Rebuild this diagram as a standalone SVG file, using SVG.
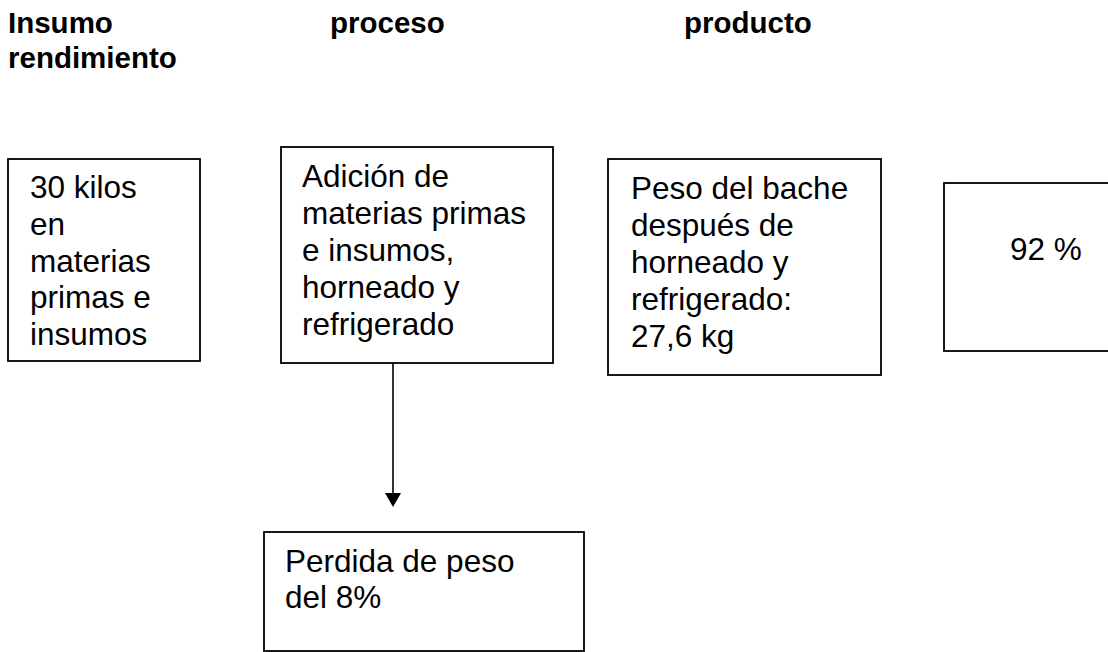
<svg xmlns="http://www.w3.org/2000/svg" width="1108" height="652" viewBox="0 0 1108 652">
<style>
.box{fill:#fff;stroke:#000;stroke-width:1.8}
.t{font-family:"Liberation Sans",Arial,sans-serif;font-size:31.5px;fill:#000}
.h{font-family:"Liberation Sans",Arial,sans-serif;font-size:29.5px;font-weight:bold;fill:#000}
.c{stroke:#000;stroke-width:1.6;fill:none}
</style>
<rect width="1108" height="652" fill="#fff"/>
<g id="headers">
<text class="h" x="8" y="33">Insumo</text>
<text class="h" x="8" y="68">rendimiento</text>
<text class="h" x="330" y="33">proceso</text>
<text class="h" x="684" y="33">producto</text>
</g>
<g id="insumo">
<rect class="box" x="8" y="159" width="192" height="202"/>
<text class="t" x="30" y="198">30 kilos</text>
<text class="t" x="30" y="235">en</text>
<text class="t" x="30" y="272">materias</text>
<text class="t" x="30" y="308">primas e</text>
<text class="t" x="30" y="345">insumos</text>
</g>
<g id="proceso">
<rect class="box" x="281" y="147" width="272" height="216"/>
<text class="t" x="302" y="187">Adición de</text>
<text class="t" x="302" y="224">materias primas</text>
<text class="t" x="302" y="261">e insumos,</text>
<text class="t" x="302" y="298">horneado y</text>
<text class="t" x="302" y="335">refrigerado</text>
</g>
<g id="producto">
<rect class="box" x="608" y="159" width="273" height="216"/>
<text class="t" x="631" y="199">Peso del bache</text>
<text class="t" x="631" y="236">después de</text>
<text class="t" x="631" y="273">horneado y</text>
<text class="t" x="631" y="310">refrigerado:</text>
<text class="t" x="631" y="347">27,6 kg</text>
</g>
<g id="rendimiento">
<rect class="box" x="944" y="183" width="170" height="168"/>
<text class="t" x="1010" y="260">92 %</text>
</g>
<g id="perdida">
<rect class="box" x="264" y="532" width="320" height="119"/>
<text class="t" x="285" y="572">Perdida de peso</text>
<text class="t" x="285" y="608">del 8%</text>
</g>
<g id="connectors">
<line class="c" x1="393" y1="363" x2="393" y2="494"/>
<polygon points="385,493 401,493 393,507" fill="#000"/>
</g>
</svg>
